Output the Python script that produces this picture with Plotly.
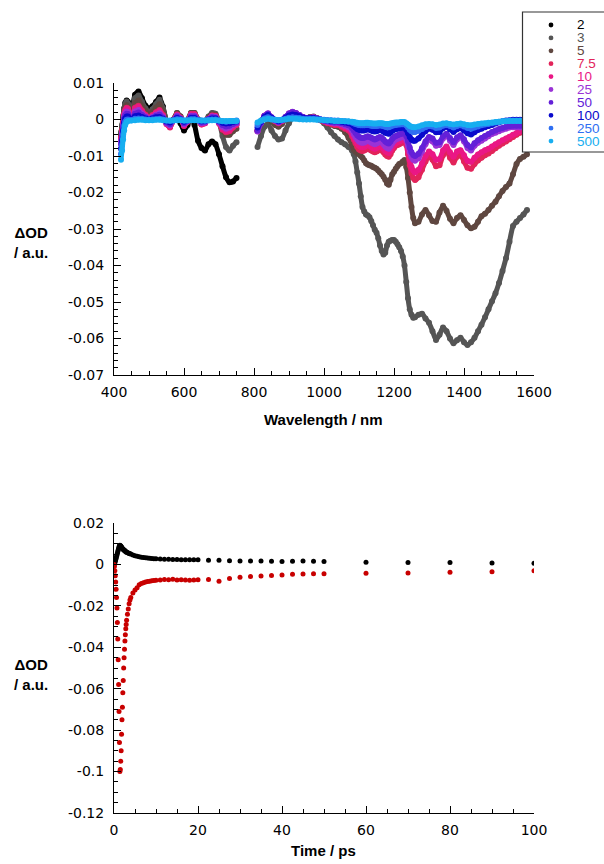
import plotly.graph_objects as go

# ---------------- top panel data (transient spectra) ----------------
VIS_WL = [420, 423, 426, 429, 432, 436, 440] + list(range(450, 760, 10))
NIR_WL = list(range(810, 1081, 10)) + list(range(1085, 1261, 5)) + list(range(1270, 1581, 10))

DELAYS = ["2", "3", "5", "7.5", "10", "25", "50", "100", "250", "500"]
COLORS = ["#000000", "#555555", "#5f4740", "#e2245a", "#ea1785", "#9a33d6",
          "#6420d8", "#0a0acc", "#2f6ff2", "#17aef0"]

VIS_2 = [-0.004, -0.002, 0.0005, 0.003, 0.0045, 0.0052, 0.0048,
         0.0022, 0.0068, 0.0077, 0.0058, 0.0038, 0.003, 0.0036, 0.0048, 0.006, 0.0035,
         -0.0005, -0.002, 0.0, 0.0012, -0.001, -0.003, -0.0015, 0.0008, -0.0015, -0.0058,
         -0.0078, -0.0085, -0.0068, -0.006, -0.0068, -0.0095, -0.0128, -0.0158, -0.0172, -0.017,
         -0.016]
NIR_2 = []

VIS_3 = [-0.0035, -0.0015, 0.001, 0.003, 0.0042, 0.0049, 0.0043,
         0.0015, 0.0058, 0.0066, 0.0048, 0.003, 0.002, 0.0028, 0.0042, 0.0054, 0.003,
         -0.0003, -0.0018, 0.0, 0.0018, 0.0008, -0.0012, -0.0002, 0.0018, 0.0018, 0.0,
         -0.0012, -0.0005, 0.0008, 0.0018, 0.0016, -0.0005, -0.0045, -0.0075, -0.0085, -0.0072,
         -0.0062]
NIR_3 = [-0.0075, -0.0045, -0.002, -0.0012, -0.003, -0.0045, -0.0055, -0.0052, -0.003, -0.001,
         0.0005, 0.001, 0.001, 0.0006, 0.0004, 0.0007, 0.0008, 0.0004, -0.0002, -0.001,
         -0.0022, -0.0035, -0.0045, -0.0055, -0.0062, -0.0068, -0.0075, -0.0085,
         -0.0095, -0.0115, -0.0145, -0.0175, -0.021, -0.024, -0.0252, -0.026, -0.0263, -0.0268,
         -0.0278, -0.029, -0.0302, -0.031, -0.0325, -0.0345, -0.036, -0.037, -0.0365, -0.0345,
         -0.0335, -0.0332, -0.033, -0.033, -0.0335, -0.0342, -0.035, -0.036, -0.0375, -0.04,
         -0.0445, -0.049, -0.052, -0.0535, -0.0543, -0.0542,
         -0.0535, -0.0532, -0.0545, -0.0557, -0.058, -0.0604, -0.059, -0.057, -0.058, -0.06,
         -0.0613, -0.0605, -0.0598, -0.061, -0.0618, -0.061, -0.0598, -0.058, -0.0562, -0.0542,
         -0.052, -0.0498, -0.0476, -0.0448, -0.0415, -0.038, -0.0335, -0.0292, -0.028, -0.027,
         -0.026, -0.0248]

VIS_5 = [-0.0045, -0.0025, 0.0, 0.0022, 0.0034, 0.004, 0.0036,
         0.0008, 0.0045, 0.0052, 0.0036, 0.0022, 0.0013, 0.002, 0.0032, 0.0042, 0.0022,
         -0.0008, -0.002, 0.0, 0.0018, 0.0008, -0.0015, -0.0004, 0.0018, 0.0018, 0.0,
         -0.0012, -0.0008, 0.0005, 0.0014, 0.0012, -0.0008, -0.003, -0.0042, -0.0042, -0.0032,
         -0.0025]
NIR_5 = [-0.003, -0.001, 0.0008, 0.0012, -0.0005, -0.0015, -0.002, -0.0012, 0.0, 0.0014,
         0.002, 0.0016, 0.001, 0.0006, 0.0004, 0.0006, 0.0006, 0.0003, -0.0002, -0.0006,
         -0.001, -0.0014, -0.0018, -0.002, -0.0025, -0.0035, -0.005, -0.007,
         -0.0082, -0.0088, -0.0092, -0.0095, -0.01, -0.0105, -0.0112, -0.012, -0.0123, -0.0125,
         -0.0127, -0.013, -0.0132, -0.0135, -0.014, -0.0145, -0.015, -0.0157, -0.0165, -0.0175,
         -0.0179, -0.0165, -0.015, -0.0143, -0.0135, -0.0128, -0.0122, -0.012, -0.0115, -0.0111,
         -0.013, -0.016, -0.02, -0.024, -0.027, -0.0284,
         -0.028, -0.026, -0.0248, -0.0262, -0.0278, -0.028, -0.0255, -0.0236, -0.025, -0.0272,
         -0.0284, -0.027, -0.0262, -0.0275, -0.029, -0.0298, -0.0294, -0.028, -0.0265, -0.0258,
         -0.0248, -0.0236, -0.0225, -0.021, -0.0196, -0.0185, -0.0175, -0.015, -0.0122, -0.0108,
         -0.0102, -0.0095]

VIS_7_5 = [-0.005, -0.003, -0.0005, 0.0015, 0.0026, 0.0032, 0.003,
           0.0003, 0.0032, 0.0038, 0.0025, 0.0013, 0.0005, 0.0012, 0.002, 0.0026, 0.0012,
           -0.0012, -0.0022, -0.0002, 0.0014, 0.0005, -0.0018, -0.0006, 0.0015, 0.0015, -0.0002,
           -0.0014, -0.001, 0.0002, 0.0011, 0.001, -0.001, -0.0028, -0.0035, -0.0032, -0.0022,
           -0.0015]
NIR_7_5 = [-0.003, -0.0008, 0.001, 0.0015, 0.0004, -0.0005, -0.001, -0.0005, 0.0005, 0.0015,
           0.002, 0.0016, 0.001, 0.0005, 0.0003, 0.0005, 0.0006, 0.0003, -0.0002, -0.0006,
           -0.001, -0.0012, -0.0015, -0.0015, -0.002, -0.0025, -0.003, -0.0045,
           -0.0055, -0.0065, -0.0075, -0.0082, -0.0085, -0.0086, -0.0085, -0.0082, -0.008, -0.0082,
           -0.0085, -0.0088, -0.009, -0.0088, -0.0085, -0.0082, -0.0085, -0.009, -0.0096, -0.01,
           -0.0102, -0.0095, -0.0085, -0.0078, -0.0072, -0.007, -0.0068, -0.0065, -0.0062, -0.006,
           -0.007, -0.0095, -0.0125, -0.0148, -0.016, -0.0166,
           -0.0158, -0.0138, -0.0115, -0.0102, -0.011, -0.0128, -0.0125, -0.0098, -0.0086, -0.0105,
           -0.0118, -0.0102, -0.0098, -0.0115, -0.0132, -0.0135, -0.0122, -0.0112, -0.0105, -0.0098,
           -0.0093, -0.0086, -0.0079, -0.0072, -0.0066, -0.006, -0.0054, -0.0048, -0.0042, -0.0036,
           -0.0033, -0.003]

VIS_10 = [-0.0055, -0.0035, -0.0008, 0.0013, 0.0024, 0.003, 0.0028,
          0.0002, 0.003, 0.0035, 0.0022, 0.0011, 0.0004, 0.001, 0.0018, 0.0023, 0.001,
          -0.0012, -0.002, -0.0002, 0.0013, 0.0004, -0.0017, -0.0006, 0.0014, 0.0014, -0.0002,
          -0.0013, -0.001, 0.0002, 0.001, 0.0009, -0.001, -0.0026, -0.0032, -0.003, -0.002,
          -0.0014]
NIR_10 = [-0.0032, -0.0008, 0.001, 0.0016, 0.0005, -0.0004, -0.0009, -0.0004, 0.0006, 0.0016,
          0.002, 0.0017, 0.0011, 0.0006, 0.0004, 0.0005, 0.0006, 0.0003, -0.0001, -0.0005,
          -0.0008, -0.001, -0.0012, -0.0013, -0.0017, -0.0022, -0.0027, -0.004,
          -0.005, -0.0058, -0.0066, -0.0072, -0.0075, -0.0076, -0.0075, -0.0072, -0.007, -0.0072,
          -0.0075, -0.0078, -0.008, -0.0078, -0.0075, -0.0072, -0.0075, -0.008, -0.0086, -0.009,
          -0.0092, -0.0085, -0.0076, -0.007, -0.0065, -0.0062, -0.006, -0.0058, -0.0055, -0.0053,
          -0.0062, -0.0085, -0.011, -0.013, -0.014, -0.0145,
          -0.0138, -0.012, -0.01, -0.0088, -0.0095, -0.011, -0.0108, -0.0085, -0.0074, -0.009,
          -0.0102, -0.0088, -0.0084, -0.0098, -0.0113, -0.0116, -0.0105, -0.0096, -0.009, -0.0084,
          -0.008, -0.0074, -0.0068, -0.0062, -0.0057, -0.0052, -0.0047, -0.0042, -0.0037, -0.0032,
          -0.003, -0.0028]

VIS_25 = [-0.006, -0.004, -0.0015, 0.0007, 0.0017, 0.0022, 0.002,
          0.0, 0.0022, 0.0026, 0.0016, 0.0008, 0.0002, 0.0007, 0.0013, 0.0017, 0.0007,
          -0.001, -0.0016, -0.0002, 0.001, 0.0003, -0.0013, -0.0005, 0.001, 0.001, -0.0002,
          -0.001, -0.0008, 0.0001, 0.0008, 0.0007, -0.0008, -0.002, -0.0025, -0.0022, -0.0015,
          -0.001]
NIR_25 = [-0.0033, -0.001, 0.001, 0.0017, 0.0006, -0.0003, -0.0008, -0.0003, 0.0007, 0.0017,
          0.0021, 0.0018, 0.0012, 0.0007, 0.0004, 0.0005, 0.0006, 0.0003, 0.0, -0.0004,
          -0.0006, -0.0008, -0.001, -0.001, -0.0013, -0.0017, -0.0021, -0.003,
          -0.004, -0.0048, -0.0055, -0.006, -0.0063, -0.0064, -0.0063, -0.006, -0.0058, -0.006,
          -0.0063, -0.0066, -0.0068, -0.0066, -0.0063, -0.006, -0.0063, -0.0068, -0.0074, -0.0078,
          -0.008, -0.0073, -0.0065, -0.0059, -0.0055, -0.0053, -0.0051, -0.0049, -0.0047, -0.0046,
          -0.0055, -0.0072, -0.009, -0.0103, -0.011, -0.0113,
          -0.0106, -0.0088, -0.0068, -0.0055, -0.006, -0.0072, -0.007, -0.0052, -0.0044, -0.0058,
          -0.007, -0.0055, -0.0048, -0.006, -0.0078, -0.0085, -0.0072, -0.0064, -0.0058, -0.0052,
          -0.0046, -0.004, -0.0036, -0.0032, -0.0028, -0.0025, -0.0022, -0.0021, -0.0021, -0.0022,
          -0.0022, -0.0022]

VIS_50 = [-0.0068, -0.0046, -0.002, 0.0002, 0.0011, 0.0016, 0.0015,
          -0.0001, 0.0016, 0.0019, 0.0012, 0.0006, 0.0001, 0.0005, 0.001, 0.0013, 0.0005,
          -0.0008, -0.0013, -0.0002, 0.0008, 0.0002, -0.001, -0.0004, 0.0008, 0.0008, -0.0002,
          -0.0008, -0.0006, 0.0001, 0.0006, 0.0005, -0.0006, -0.0015, -0.0019, -0.0017, -0.0012,
          -0.0008]
NIR_50 = [-0.003, -0.0009, 0.001, 0.0016, 0.0006, -0.0002, -0.0007, -0.0002, 0.0007, 0.0016,
          0.002, 0.0017, 0.0012, 0.0007, 0.0004, 0.0005, 0.0005, 0.0003, 0.0, -0.0003,
          -0.0005, -0.0007, -0.0008, -0.0008, -0.001, -0.0013, -0.0016, -0.0023,
          -0.003, -0.0037, -0.0043, -0.0047, -0.005, -0.0051, -0.005, -0.0048, -0.0046, -0.0048,
          -0.005, -0.0053, -0.0055, -0.0053, -0.005, -0.0048, -0.005, -0.0055, -0.006, -0.0064,
          -0.0066, -0.006, -0.0053, -0.0048, -0.0045, -0.0043, -0.0041, -0.004, -0.0038, -0.0037,
          -0.0045, -0.006, -0.0077, -0.009, -0.0097, -0.01,
          -0.0094, -0.0078, -0.006, -0.0048, -0.0052, -0.0064, -0.0062, -0.0046, -0.0039, -0.0051,
          -0.0062, -0.0049, -0.0043, -0.0054, -0.007, -0.0077, -0.0065, -0.0057, -0.0051, -0.0045,
          -0.004, -0.0034, -0.003, -0.0026, -0.0023, -0.002, -0.0018, -0.0017, -0.0017, -0.0017,
          -0.0017, -0.0017]

VIS_100 = [-0.008, -0.0058, -0.003, -0.0008, 0.0003, 0.0008, 0.0008,
           -0.0001, 0.0009, 0.0011, 0.0007, 0.0003, 0.0, 0.0003, 0.0006, 0.0007, 0.0002,
           -0.0005, -0.0008, -0.0002, 0.0004, 0.0001, -0.0006, -0.0003, 0.0004, 0.0004, -0.0002,
           -0.0005, -0.0004, 0.0, 0.0003, 0.0003, -0.0004, -0.0009, -0.0011, -0.001, -0.0007,
           -0.0005]
NIR_100 = [-0.0022, -0.0006, 0.0007, 0.0012, 0.0005, -0.0001, -0.0004, -0.0001, 0.0005, 0.0011,
           0.0014, 0.0012, 0.0009, 0.0005, 0.0003, 0.0004, 0.0004, 0.0002, 0.0, -0.0002,
           -0.0003, -0.0004, -0.0005, -0.0005, -0.0006, -0.0008, -0.001, -0.0014,
           -0.0018, -0.0022, -0.0026, -0.0028, -0.003, -0.003, -0.003, -0.0028, -0.0027, -0.0028,
           -0.003, -0.0032, -0.0033, -0.0032, -0.003, -0.0029, -0.003, -0.0033, -0.0036, -0.0038,
           -0.0039, -0.0035, -0.0031, -0.0028, -0.0026, -0.0025, -0.0024, -0.0023, -0.0022, -0.0022,
           -0.0028, -0.0038, -0.0048, -0.0055, -0.0058, -0.0058,
           -0.0052, -0.0042, -0.0032, -0.0025, -0.0028, -0.0035, -0.0034, -0.0024, -0.002, -0.0027,
           -0.0034, -0.0027, -0.0024, -0.003, -0.0038, -0.0041, -0.0035, -0.0029, -0.0025, -0.0021,
           -0.0018, -0.0015, -0.0011, -0.0008, -0.0005, -0.0003, -0.0002, -0.0001, -0.0001, -0.0001,
           -0.0001, -0.0001]

VIS_250 = [-0.0095, -0.007, -0.0042, -0.0018, -0.0006, -0.0001, 0.0,
           -0.0002, 0.0002, 0.0003, 0.0002, 0.0, -0.0001, 0.0, 0.0001, 0.0002, 0.0,
           -0.0003, -0.0004, -0.0002, 0.0001, 0.0, -0.0003, -0.0002, 0.0001, 0.0001, -0.0002,
           -0.0003, -0.0003, -0.0001, 0.0, 0.0, -0.0003, -0.0005, -0.0006, -0.0005, -0.0004,
           -0.0003]
NIR_250 = [-0.0015, -0.0004, 0.0003, 0.0006, 0.0002, -0.0001, -0.0002, -0.0001, 0.0002, 0.0005,
           0.0006, 0.0005, 0.0004, 0.0002, 0.0001, 0.0002, 0.0002, 0.0001, 0.0, -0.0001,
           -0.0002, -0.0002, -0.0003, -0.0003, -0.0004, -0.0005, -0.0006, -0.0008,
           -0.001, -0.0012, -0.0014, -0.0015, -0.0016, -0.0016, -0.0016, -0.0015, -0.0015, -0.0016,
           -0.0017, -0.0018, -0.0018, -0.0018, -0.0017, -0.0016, -0.0017, -0.0018, -0.002, -0.0021,
           -0.0021, -0.0019, -0.0017, -0.0016, -0.0015, -0.0014, -0.0014, -0.0013, -0.0013, -0.0013,
           -0.0016, -0.0022, -0.0028, -0.0032, -0.0034, -0.0034,
           -0.0031, -0.0026, -0.0021, -0.0018, -0.0019, -0.0023, -0.0022, -0.0017, -0.0015, -0.0018,
           -0.0022, -0.0018, -0.0016, -0.0019, -0.0023, -0.0025, -0.0022, -0.0019, -0.0016, -0.0014,
           -0.0012, -0.001, -0.0008, -0.0006, -0.0005, -0.0004, -0.0003, -0.0003, -0.0003, -0.0003,
           -0.0003, -0.0003]

VIS_500 = [-0.011, -0.0085, -0.0055, -0.003, -0.0015, -0.0007, -0.0004,
           -0.0003, -0.0002, -0.0001, -0.0001, -0.0002, -0.0002, -0.0002, -0.0001, -0.0001, -0.0002,
           -0.0003, -0.0003, -0.0003, -0.0002, -0.0002, -0.0003, -0.0003, -0.0002, -0.0002, -0.0003,
           -0.0003, -0.0003, -0.0003, -0.0002, -0.0002, -0.0003, -0.0004, -0.0004, -0.0004, -0.0004,
           -0.0004]
NIR_500 = [-0.0008, -0.0003, 0.0, 0.0002, 0.0, -0.0001, -0.0002, -0.0001, 0.0, 0.0002,
           0.0002, 0.0002, 0.0001, 0.0, 0.0, 0.0, 0.0, -0.0001, -0.0001, -0.0002,
           -0.0003, -0.0003, -0.0004, -0.0004, -0.0004, -0.0005, -0.0005, -0.0006,
           -0.0007, -0.0008, -0.0009, -0.001, -0.001, -0.001, -0.001, -0.0009, -0.0009, -0.001,
           -0.001, -0.0011, -0.0011, -0.0011, -0.001, -0.001, -0.001, -0.0011, -0.0012, -0.0012,
           -0.0012, -0.0011, -0.001, -0.0009, -0.0008, -0.0008, -0.0008, -0.0007, -0.0007, -0.0007,
           -0.001, -0.0014, -0.0018, -0.002, -0.0021, -0.0021,
           -0.0019, -0.0016, -0.0013, -0.0012, -0.0013, -0.0015, -0.0014, -0.0011, -0.001, -0.0012,
           -0.0014, -0.0012, -0.0011, -0.0013, -0.0015, -0.0016, -0.0014, -0.0012, -0.0011, -0.001,
           -0.0009, -0.0008, -0.0007, -0.0006, -0.0005, -0.0005, -0.0004, -0.0004, -0.0004, -0.0004,
           -0.0004, -0.0004]

VIS_SERIES = [VIS_2, VIS_3, VIS_5, VIS_7_5, VIS_10, VIS_25, VIS_50, VIS_100, VIS_250, VIS_500]
NIR_SERIES = [NIR_2, NIR_3, NIR_5, NIR_7_5, NIR_10, NIR_25, NIR_50, NIR_100, NIR_250, NIR_500]

# ---------------- bottom panel data (kinetics) ----------------
TIME = [0.0, 0.1, 0.2, 0.3, 0.4, 0.5, 0.6, 0.7, 0.8, 0.9,
        1.0, 1.1, 1.2, 1.3, 1.4, 1.5, 1.6, 1.7, 1.8, 1.9,
        2.0, 2.1, 2.2, 2.3, 2.4, 2.5, 2.6, 2.7, 2.8, 2.9,
        3.0, 3.2, 3.4, 3.6, 3.8, 4.0,
        4.5, 5.0, 5.5, 6.0, 6.5, 7.0, 7.5, 8.0, 8.5, 9.0, 9.5, 10.0,
        11, 12, 13, 14, 15, 16, 17, 18, 19, 20,
        22.5, 25, 27.5, 30, 32.5, 35, 37.5, 40, 42.5, 45, 47.5, 50,
        60, 70, 80, 90, 100]
KIN_BLACK = [0.0, 0.0003, 0.0008, 0.0015, 0.0022, 0.003, 0.0038, 0.0046, 0.0054, 0.0062,
             0.007, 0.0078, 0.0085, 0.009, 0.0092, 0.0091, 0.0089, 0.0086, 0.0083, 0.008,
             0.0077, 0.0075, 0.0073, 0.0071, 0.0069, 0.0068, 0.0066, 0.0064, 0.0062, 0.006,
             0.0059, 0.0057, 0.0055, 0.0053, 0.0052, 0.005,
             0.0046, 0.0042, 0.0039, 0.0037, 0.0035, 0.0033, 0.0032, 0.0031, 0.003, 0.0029, 0.0028, 0.0027,
             0.0026, 0.0025, 0.0025, 0.0024, 0.0024, 0.0023, 0.0023, 0.0023, 0.0022, 0.0022,
             0.002, 0.002, 0.0018, 0.0017, 0.0016, 0.0016, 0.0015, 0.0014, 0.0015, 0.0016, 0.0015, 0.0014,
             0.001, 0.0009, 0.0009, 0.0007, 0.0006]
KIN_RED = [0.0, -0.001, -0.003, -0.0055, -0.0085, -0.012, -0.016, -0.021, -0.028, -0.036,
           -0.046, -0.058, -0.071, -0.086, -0.1, -0.099, -0.095, -0.09, -0.082, -0.075,
           -0.069, -0.062, -0.056, -0.05, -0.045, -0.041, -0.037, -0.034, -0.031, -0.029,
           -0.027, -0.024, -0.0215, -0.019, -0.0172, -0.016,
           -0.0138, -0.0124, -0.0112, -0.0098, -0.0092, -0.0088, -0.0085, -0.0083, -0.0081, -0.0079, -0.0078, -0.0076,
           -0.0075, -0.0073, -0.0074, -0.0072, -0.0075, -0.0074, -0.0075, -0.0076, -0.0075, -0.0074,
           -0.0073, -0.0081, -0.0068, -0.0062, -0.0058, -0.0056, -0.0054, -0.0051, -0.0048, -0.0046, -0.0045, -0.0045,
           -0.0043, -0.0041, -0.0038, -0.0035, -0.0031]

# ticks
X1_TICKS = [400, 600, 800, 1000, 1200, 1400, 1600]
Y1_TICKS = [0.01, 0, -0.01, -0.02, -0.03, -0.04, -0.05, -0.06, -0.07]
Y1_LABELS = ["0.01", "0", "-0.01", "-0.02", "-0.03", "-0.04", "-0.05", "-0.06", "-0.07"]
X2_TICKS = [0, 20, 40, 60, 80, 100]
Y2_TICKS = [0.02, 0, -0.02, -0.04, -0.06, -0.08, -0.1, -0.12]
Y2_LABELS = ["0.02", "0", "-0.02", "-0.04", "-0.06", "-0.08", "-0.1", "-0.12"]

for v in VIS_SERIES:
    assert len(v) == len(VIS_WL), len(v)
for n in NIR_SERIES:
    assert len(n) in (0, len(NIR_WL)), len(n)
assert len(KIN_BLACK) == len(TIME) and len(KIN_RED) == len(TIME)

# ---------------- figure ----------------
W, H = 604, 864
L, R, T, B = 114, 70, 83, 51
PW, PH = W - L - R, H - T - B


def px(xp):
    return (xp - L) / PW


def py(yp):
    return (H - B - yp) / PH


fig = go.Figure()
for name, col, vis, nir in zip(DELAYS, COLORS, VIS_SERIES, NIR_SERIES):
    xs = VIS_WL + ([None] + NIR_WL if nir else [])
    ys = vis + ([None] + nir if nir else [])
    fig.add_trace(go.Scatter(x=xs, y=ys, mode="lines+markers", name=name,
                             line=dict(color=col, width=5, shape="spline", smoothing=0.6),
                             connectgaps=False,
                             marker=dict(color=col, size=6, line=dict(width=0)),
                             xaxis="x", yaxis="y", showlegend=False))

fig.add_trace(go.Scatter(x=TIME, y=KIN_BLACK, mode="markers", name="black",
                         marker=dict(color="#000000", size=5, line=dict(width=0)),
                         xaxis="x2", yaxis="y2", showlegend=False))
fig.add_trace(go.Scatter(x=TIME, y=KIN_RED, mode="markers", name="red",
                         marker=dict(color="#c80000", size=5, line=dict(width=0)),
                         xaxis="x2", yaxis="y2", showlegend=False))

tickfont = dict(family="DejaVu Sans", size=14, color="black")
axis_common = dict(showline=True, linecolor="black", linewidth=1, ticks="inside",
                   ticklen=7, tickwidth=1, tickcolor="black", showgrid=False,
                   zeroline=False, mirror=False, tickfont=tickfont)

fig.update_layout(
    width=W, height=H, margin=dict(l=L, r=R, t=T, b=B),
    paper_bgcolor="white", plot_bgcolor="white", showlegend=False,
    xaxis=dict(domain=[0, 1], range=[400, 1600], anchor="y", tickmode="array",
               tickvals=X1_TICKS, ticklabelstandoff=4,
               minor=dict(tickmode="linear", tick0=400, dtick=50, ticks="inside",
                          ticklen=4, tickcolor="black"), **axis_common),
    yaxis=dict(domain=[py(375), 1], range=[-0.07, 0.01], anchor="x", tickmode="array",
               tickvals=Y1_TICKS, ticktext=Y1_LABELS, ticklabelstandoff=6,
               minor=dict(tickmode="linear", tick0=0, dtick=0.002, ticks="inside",
                          ticklen=4, tickcolor="black"), **axis_common),
    xaxis2=dict(domain=[0, 1], range=[0, 100], anchor="y2", tickmode="array",
                tickvals=X2_TICKS, ticklabelstandoff=4,
                minor=dict(tickmode="linear", tick0=0, dtick=5, ticks="inside",
                           ticklen=4, tickcolor="black"), **axis_common),
    yaxis2=dict(domain=[0, py(523)], range=[-0.12, 0.02], anchor="x2", tickmode="array",
                tickvals=Y2_TICKS, ticktext=Y2_LABELS, ticklabelstandoff=6,
                minor=dict(tickmode="linear", tick0=0, dtick=0.005, ticks="inside",
                           ticklen=4, tickcolor="black"), **axis_common),
)

title_font = dict(family="Liberation Sans", size=15, color="black")
annotations = [
    dict(text="<b>Wavelength / nm</b>", x=px(323), y=py(419), xref="paper", yref="paper",
         xanchor="center", yanchor="middle", showarrow=False, font=title_font),
    dict(text="<b>Time / ps</b>", x=px(323), y=py(851), xref="paper", yref="paper",
         xanchor="center", yanchor="middle", showarrow=False, font=title_font),
    dict(text="<b>ΔOD<br>/ a.u.</b>", x=px(31), y=py(242), xref="paper", yref="paper",
         xanchor="center", yanchor="middle", showarrow=False, font=title_font, align="center"),
    dict(text="<b>ΔOD<br>/ a.u.</b>", x=px(31), y=py(674), xref="paper", yref="paper",
         xanchor="center", yanchor="middle", showarrow=False, font=title_font, align="center"),
]

# hand-drawn legend (compact rows as in the reference)
shapes = [dict(type="rect", xref="paper", yref="paper", x0=px(522.5), x1=px(610),
               y0=py(152), y1=py(12), line=dict(color="#333333", width=1.2),
               fillcolor="white", layer="above")]
row0, step = 25.0, 12.9
for i, (name, col) in enumerate(zip(DELAYS, COLORS)):
    yc = row0 + i * step
    shapes.append(dict(type="circle", xref="paper", yref="paper",
                       x0=px(551 - 2.4), x1=px(551 + 2.4), y0=py(yc + 2.4), y1=py(yc - 2.4),
                       fillcolor=col, line=dict(width=0), layer="above"))
    annotations.append(dict(text=name, x=px(575), y=py(yc), xref="paper", yref="paper",
                            xanchor="left", yanchor="middle", showarrow=False,
                            font=dict(family="Liberation Sans", size=13.5, color=col)))

fig.update_layout(shapes=shapes, annotations=annotations)
fig.write_html("out.html")
